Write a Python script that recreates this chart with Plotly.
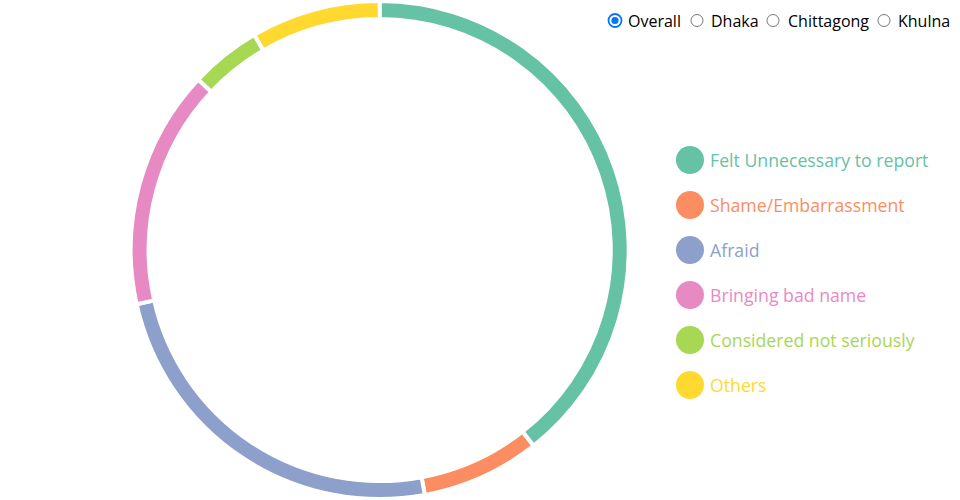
import plotly.graph_objects as go

# ---- data ----
categories = ["Felt Unnecessary to report", "Shame/Embarrassment", "Afraid",
              "Bringing bad name", "Considered not seriously", "Others"]
values = [39.4, 7.7, 24.4, 15.5, 4.6, 8.4]
colors = ["#66c2a5", "#fc8d62", "#8da0cb", "#e78ac3", "#a6d854", "#ffd92f"]
regions = ["Overall", "Dhaka", "Chittagong", "Khulna"]
selected_region = "Overall"

W, H = 960, 500
cx, cy, R = 379.7, 250.0, 249.0

fig = go.Figure()
fig.add_trace(go.Pie(
    labels=categories, values=values, sort=False, direction="clockwise",
    rotation=0, hole=0.928, textinfo="none", hoverinfo="label+percent",
    marker=dict(colors=colors, line=dict(color="white", width=4)),
    domain=dict(x=[(cx - R) / W, (cx + R) / W], y=[(H - cy - R) / H, (H - cy + R) / H]),
    showlegend=False,
))

shapes = []
annotations = []

# custom legend with circles
leg_x, leg_y0, leg_dy, leg_r = 690, 160, 45, 14
for i, (cat, col) in enumerate(zip(categories, colors)):
    y = leg_y0 + i * leg_dy
    shapes.append(dict(type="circle", xref="paper", yref="paper",
                       x0=(leg_x - leg_r) / W, x1=(leg_x + leg_r) / W,
                       y0=1 - (y + leg_r) / H, y1=1 - (y - leg_r) / H,
                       fillcolor=col, line=dict(width=0)))
    annotations.append(dict(text=cat, xref="paper", yref="paper",
                            x=(leg_x + leg_r + 4) / W, y=1 - y / H,
                            xanchor="left", yanchor="middle", showarrow=False,
                            font=dict(family="Open Sans", size=17.7, color=col)))

# radio buttons
radio_cx = [615, 697, 773, 884]
radio_tx = [628, 711, 788, 898]
ry, rr = 20.5, 6.5
for name, rcx, tx in zip(regions, radio_cx, radio_tx):
    if name == selected_region:
        shapes.append(dict(type="circle", xref="paper", yref="paper",
                           x0=(rcx - rr) / W, x1=(rcx + rr) / W,
                           y0=1 - (ry + rr) / H, y1=1 - (ry - rr) / H,
                           fillcolor="white", line=dict(color="#0075ff", width=1.8)))
        ri = 3.6
        shapes.append(dict(type="circle", xref="paper", yref="paper",
                           x0=(rcx - ri) / W, x1=(rcx + ri) / W,
                           y0=1 - (ry + ri) / H, y1=1 - (ry - ri) / H,
                           fillcolor="#0075ff", line=dict(width=0)))
    else:
        shapes.append(dict(type="circle", xref="paper", yref="paper",
                           x0=(rcx - rr + 0.5) / W, x1=(rcx + rr - 0.5) / W,
                           y0=1 - (ry + rr - 0.5) / H, y1=1 - (ry - rr + 0.5) / H,
                           fillcolor="white", line=dict(color="#767676", width=1)))
    annotations.append(dict(text=name, xref="paper", yref="paper",
                            x=(tx - 2) / W, y=1 - ry / H,
                            xanchor="left", yanchor="middle", showarrow=False,
                            font=dict(family="Open Sans", size=16, color="black")))

fig.update_layout(
    width=W, height=H, margin=dict(l=0, r=0, t=0, b=0),
    paper_bgcolor="white", plot_bgcolor="white",
    shapes=shapes, annotations=annotations,
    font=dict(family="Open Sans"),
)

fig.write_html("out.html", config={"displayModeBar": False},
               post_script="document.body.style.margin='0';")
